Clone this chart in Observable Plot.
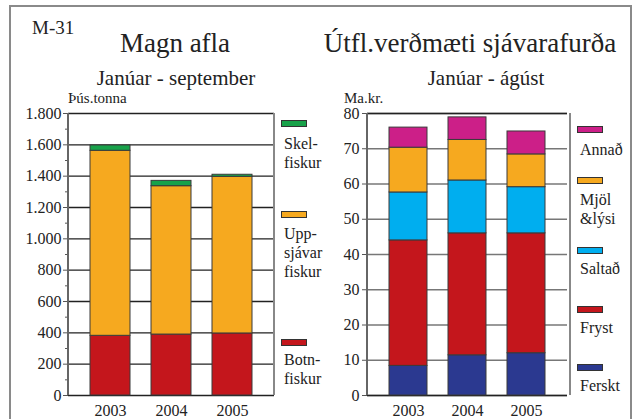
<!DOCTYPE html>
<html>
<head>
<meta charset="utf-8">
<script src="https://cdn.jsdelivr.net/npm/d3@7"></script>
<script src="https://cdn.jsdelivr.net/npm/@observablehq/plot@0.6"></script>
<style>
  html, body { margin: 0; padding: 0; background: #fff; }
  #wrap { position: relative; width: 637px; height: 419px; overflow: hidden; background: #fff;
          font-family: "Liberation Serif", "DejaVu Serif", serif; color: #222; }
  .abs { position: absolute; white-space: nowrap; line-height: 1; }
  .sw { position: absolute; width: 26px; height: 7px; border: 1px solid #333; box-sizing: border-box; }
  .lab { position: absolute; font-size: 16px; line-height: 19px; white-space: pre; font-family: "Liberation Serif", serif; }
  svg { position: absolute; overflow: visible; }
  svg text { font-family: "Liberation Serif", serif; }
</style>
</head>
<body>
<div id="wrap"></div>
<script>
// ---------- data ----------
const years = ["2003", "2004", "2005"];

// Left: Magn afla (þús. tonna), Janúar - september
const leftCategories = ["Botnfiskur", "Uppsjávarfiskur", "Skelfiskur"];
const botnfiskur      = [381, 389, 396];
const uppsjavarfiskur = [1181, 947, 1000];
const skelfiskur      = [34, 34, 13];
const leftColors = ["#c4161c", "#f6a91f", "#18a24a"];
const leftTicks = [0, 200, 400, 600, 800, 1000, 1200, 1400, 1600, 1800];
const leftTickLabels = ["0", "200", "400", "600", "800", "1.000", "1.200", "1.400", "1.600", "1.800"];
const leftMinorTicks = [100, 300, 500, 700, 900, 1100, 1300, 1500, 1700];

// Right: Útfl.verðmæti sjávarafurða (Ma.kr.), Janúar - ágúst
const rightCategories = ["Ferskt", "Fryst", "Saltað", "Mjöl & lýsi", "Annað"];
const ferskt = [8.4, 11.4, 12.0];
const fryst  = [35.6, 34.6, 34.0];
const saltad = [13.6, 15.0, 13.1];
const mjol   = [12.7, 11.5, 9.3];
const annad  = [5.7, 6.4, 6.5];
const rightColors = ["#2b3990", "#c4161c", "#00aeef", "#f6a91f", "#cc1f88"];
const rightTicks = [0, 10, 20, 30, 40, 50, 60, 70, 80];

// ---------- build tables ----------
function table(cats, series) {
  const rows = [];
  cats.forEach((c, i) => years.forEach((y, j) => rows.push({year: y, cat: c, value: series[i][j]})));
  return rows;
}
const leftData = table(leftCategories, [botnfiskur, uppsjavarfiskur, skelfiskur]);
const rightData = table(rightCategories, [ferskt, fryst, saltad, mjol, annad]);

const wrap = document.getElementById("wrap");
function addText(txt, x, y, size, anchor) {
  const d = document.createElement("div");
  d.className = "abs";
  d.textContent = txt;
  d.style.fontSize = size + "px";
  d.style.top = y + "px";
  d.style.left = x + "px";
  if (anchor === "middle") d.style.transform = "translateX(-50%)";
  wrap.appendChild(d);
  return d;
}

// outer border
const border = document.createElement("div");
Object.assign(border.style, {position: "absolute", left: "9px", top: "5px", width: "623px", height: "430px",
  border: "2px solid #8a8a8a", boxSizing: "border-box"});
wrap.appendChild(border);

const FONT = "Liberation Serif, serif";
const common = {
  width: 280, height: 330,
  marginTop: 23, marginBottom: 25,
  style: {fontFamily: FONT, fontSize: "16px", color: "#222", background: "transparent", overflow: "visible"}
};

// ---------- left chart ----------
const left = Plot.plot({
  ...common,
  marginLeft: 68, marginRight: 6,
  x: {domain: years, padding: 0.35, axis: null},
  y: {domain: [0, 1800], axis: null},
  color: {domain: leftCategories, range: leftColors},
  marks: [
    Plot.ruleY(leftTicks, {stroke: "#222", strokeWidth: 1.3}),
    Plot.barY(leftData, {x: "year", y: "value", fill: "cat", stroke: "#3a3a3a", strokeWidth: 1}),
    Plot.axisX({label: null, tickSize: 0, tickPadding: 9, fontSize: 16, fontFamily: FONT}),
    Plot.axisY({label: null, ticks: leftMinorTicks, tickSize: 3, tickFormat: () => "", stroke: "#555"}),
    Plot.axisY({label: null, ticks: leftTicks, tickSize: 5, tickPadding: 2, tickFormat: (d) => leftTickLabels[leftTicks.indexOf(d)], stroke: "#555", fontSize: 16, fontFamily: FONT})
  ]
});
left.style.left = "0px";
left.style.top = "90px";
wrap.appendChild(left);

// ---------- right chart ----------
const right = Plot.plot({
  ...common,
  marginLeft: 67, marginRight: 13,
  x: {domain: years, padding: 0.35, axis: null},
  y: {domain: [0, 80], axis: null},
  color: {domain: rightCategories, range: rightColors},
  marks: [
    Plot.ruleY(rightTicks, {stroke: "#777", strokeWidth: 1.3}),
    Plot.ruleY([0, 80], {stroke: "#222", strokeWidth: 1.3}),
    Plot.barY(rightData, {x: "year", y: "value", fill: "cat", stroke: "#3a3a3a", strokeWidth: 1}),
    Plot.axisX({label: null, tickSize: 0, tickPadding: 9, fontSize: 16, fontFamily: FONT}),
    Plot.axisY({label: null, ticks: rightTicks, tickSize: 5, tickPadding: 3, stroke: "#555", fontSize: 16, fontFamily: FONT})
  ]
});
right.style.left = "300px";
right.style.top = "90px";
wrap.appendChild(right);

// frame side lines
function vline(x, y1, y2, color) {
  const d = document.createElement("div");
  Object.assign(d.style, {position: "absolute", left: (x - 0.6) + "px", top: y1 + "px", width: "1.3px", height: (y2 - y1) + "px", background: color});
  wrap.appendChild(d);
}
vline(68, 113, 395, "#666");
vline(274, 113, 395, "#888");
vline(367, 113, 395, "#666");
vline(570, 113, 395, "#888");

// ---------- titles ----------
addText("M-31", 32, 18, 19);
addText("Magn afla", 175, 30, 27, "middle");
addText("Janúar - september", 176, 68, 21, "middle");
addText("Þús.tonna", 68, 91, 15);
addText("Útfl.verðmæti sjávarafurða", 470, 30, 27, "middle");
addText("Janúar - ágúst", 486, 68, 21, "middle");
addText("Ma.kr.", 344, 91, 15);

// ---------- legends ----------
function legendItem(color, x, ySwatch, label, yLabel) {
  const s = document.createElement("div");
  s.className = "sw";
  s.style.left = x + "px"; s.style.top = ySwatch + "px"; s.style.background = color;
  wrap.appendChild(s);
  const l = document.createElement("div");
  l.className = "lab";
  l.textContent = label;
  l.style.left = (x + 3) + "px"; l.style.top = yLabel + "px";
  wrap.appendChild(l);
}
const leftLegendLabels = ["Botn-\nfiskur", "Upp-\nsjávar\nfiskur", "Skel-\nfiskur"];
legendItem(leftColors[2], 281, 120, leftLegendLabels[2], 134);
legendItem(leftColors[1], 281, 211, leftLegendLabels[1], 224);
legendItem(leftColors[0], 281, 339, leftLegendLabels[0], 350);

const rightLegendLabels = ["Ferskt", "Fryst", "Saltað", "Mjöl\n&lýsi", "Annað"];
legendItem(rightColors[4], 577, 126, rightLegendLabels[4], 140);
legendItem(rightColors[3], 577, 177, rightLegendLabels[3], 190);
legendItem(rightColors[2], 577, 247, rightLegendLabels[2], 259);
legendItem(rightColors[1], 577, 306, rightLegendLabels[1], 318);
legendItem(rightColors[0], 577, 364, rightLegendLabels[0], 376);
</script>
</body>
</html>
